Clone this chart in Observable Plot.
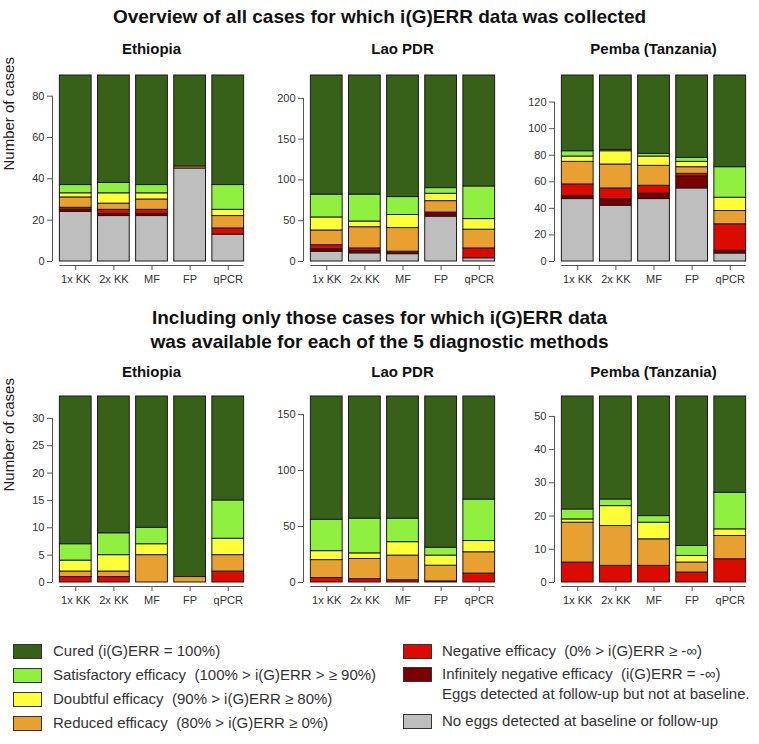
<!DOCTYPE html>
<html><head><meta charset="utf-8">
<script src="https://cdn.jsdelivr.net/npm/d3@7"></script>
<script src="https://cdn.jsdelivr.net/npm/@observablehq/plot@0.6"></script>
<style>
body{margin:0;background:#fff;font-family:"Liberation Sans",Arial,sans-serif;}
#root{position:relative;width:759px;height:744px;overflow:hidden;background:#fff;}
.abs{position:absolute;white-space:pre;}
.mtitle{font-weight:bold;font-size:19px;line-height:24px;text-align:center;color:#111;left:0;width:759px;}
.ptitle{font-weight:bold;font-size:15px;line-height:20px;text-align:center;color:#111;}
.ltext{font-size:15px;line-height:20px;color:#333;}
.sw{box-sizing:border-box;border:1px solid #333;}
</style></head><body><div id="root"></div>
<script>
// ---------------- data ----------------
const methods = ["1x KK", "2x KK", "MF", "FP", "qPCR"];
// stacking order, bottom -> top
const categories = ["No eggs", "Infinitely negative", "Negative", "Reduced", "Doubtful", "Satisfactory", "Cured"];
const categoryColors = ["#bebebe", "#7a0000", "#dd0a00", "#e8a030", "#ffff38", "#90f040", "#376118"];
const countries = ["Ethiopia", "Lao PDR", "Pemba (Tanzania)"];

// rows follow `categories`, columns follow `methods`
const ethiopiaAll = [
  [24, 22, 22, 45, 13],
  [1, 1, 1, 0, 0],
  [1, 2, 2, 0, 3],
  [5, 3, 5, 1, 6],
  [2, 5, 3, 0, 3],
  [4, 5, 4, 0, 12],
  [53, 52, 53, 44, 53]
];
const laoAll = [
  [12, 10, 9, 55, 4],
  [3, 3, 3, 5, 0],
  [5, 3, 0, 0, 12],
  [18, 26, 29, 14, 23],
  [16, 7, 16, 9, 13],
  [28, 33, 22, 7, 40],
  [146, 146, 149, 138, 136]
];
const pembaAll = [
  [47, 42, 47, 55, 6],
  [2, 5, 4, 9, 2],
  [9, 8, 6, 2, 20],
  [17, 18, 15, 5, 10],
  [4, 10, 7, 4, 10],
  [4, 1, 2, 3, 23],
  [57, 56, 59, 62, 69]
];
const ethiopiaComplete = [
  [0, 0, 0, 0, 0],
  [0, 0, 0, 0, 0],
  [1, 1, 0, 0, 2],
  [1, 1, 5, 1, 3],
  [2, 3, 2, 0, 3],
  [3, 4, 3, 0, 7],
  [27, 25, 24, 33, 19]
];
const laoComplete = [
  [0, 0, 0, 0, 0],
  [0, 0, 0, 1, 0],
  [4, 3, 2, 0, 8],
  [16, 18, 22, 14, 19],
  [8, 5, 12, 9, 10],
  [28, 31, 21, 7, 37],
  [110, 109, 109, 135, 92]
];
const pembaComplete = [
  [0, 0, 0, 0, 0],
  [0, 0, 0, 0, 0],
  [6, 5, 5, 3, 7],
  [12, 12, 8, 3, 7],
  [1, 6, 5, 2, 2],
  [3, 2, 2, 3, 11],
  [34, 31, 36, 45, 29]
];
const ticksAll = [[0, 20, 40, 60, 80], [0, 50, 100, 150, 200], [0, 20, 40, 60, 80, 100, 120]];
const ticksComplete = [[0, 5, 10, 15, 20, 25, 30], [0, 50, 100, 150], [0, 10, 20, 30, 40, 50]];

const mainTitle = "Overview of all cases for which i(G)ERR data was collected";
const subTitle = "Including only those cases for which i(G)ERR data\nwas available for each of the 5 diagnostic methods";
const yLabel = "Number of cases";
const legendLabels = [
  "Cured (i(G)ERR = 100%)",
  "Satisfactory efficacy  (100% > i(G)ERR > \u2265 90%)",
  "Doubtful efficacy  (90% > i(G)ERR \u2265 80%)",
  "Reduced efficacy  (80% > i(G)ERR \u2265 0%)",
  "Negative efficacy  (0% > i(G)ERR \u2265 -\u221e)",
  "Infinitely negative efficacy  (i(G)ERR = -\u221e)\nEggs detected at follow-up but not at baseline.",
  "No eggs detected at baseline or follow-up"
];

// ---------------- layout ----------------
const FONT = "Liberation Sans, Arial, sans-serif";
const root = document.getElementById("root");
const PW = 251, PH = 225, ML = 52, MT = 10, FRAME_BOTTOM = 200;
const PI = 0.2 / 1.2, PO = 0.232 / 1.2;
const FW = PW - ML;
const step = FW / (methods.length - PI + 2 * PO);
const bw = step * (1 - PI);
const yAxisDx = -(PO * step + bw / 2);

function addDiv(cls, text, left, top, width) {
  const d = document.createElement("div");
  d.className = "abs " + cls;
  d.textContent = text;
  d.style.left = left + "px";
  d.style.top = top + "px";
  if (width != null) d.style.width = width + "px";
  root.appendChild(d);
  return d;
}

function panel(matrix, ticks, withLabel) {
  const total = d3.sum(matrix, r => r[0]);
  const rows = [];
  methods.forEach((m, j) => matrix.forEach((r, k) => {
    if (r[j] > 0) rows.push({method: m, cat: categories[k], value: r[j]});
  }));
  const marks = [
    Plot.barY(rows, {x: "method", y: "value", fill: "cat", stroke: "#1b1b1b", strokeWidth: 1}),
    Plot.ruleY([{y: 0, a: methods[0], b: methods[methods.length - 1]}], {y: "y", x1: "a", x2: "b", dy: 4, stroke: "#555"}),
    Plot.ruleX([{x: methods[0], y1: 0, y2: ticks[ticks.length - 1]}], {x: "x", y1: "y1", y2: "y2", dx: yAxisDx, stroke: "#555"}),
    Plot.axisY({ticks, tickSize: 5, tickPadding: 3, label: null, stroke: "#555", fill: "#333", fontSize: 11}),
    Plot.axisX({tickSize: 5, tickPadding: 5, label: null, stroke: "#555", fill: "#333", fontSize: 11})
  ];
  if (withLabel) {
    marks.push(Plot.text([yLabel], {text: d => d, frameAnchor: "left", dx: -43, rotate: -90, fontSize: 15, fill: "#222"}));
  }
  return Plot.plot({
    width: PW, height: PH,
    marginLeft: ML, marginRight: 0, marginTop: MT, marginBottom: PH - FRAME_BOTTOM,
    style: {fontFamily: FONT, fontSize: "11px", color: "#333", background: "transparent", overflow: "visible"},
    x: {domain: methods, paddingInner: PI, paddingOuter: PO, align: 0.5, round: false, axis: null},
    y: {domain: [0, total], insetBottom: 4, axis: null},
    color: {domain: categories, range: categoryColors},
    marks
  });
}

addDiv("mtitle", mainTitle, 0, 5);
addDiv("mtitle", subTitle, 0, 306);

const rowsSpec = [
  {data: [ethiopiaAll, laoAll, pembaAll], ticks: ticksAll, svgTop: 65, titleTop: 39},
  {data: [ethiopiaComplete, laoComplete, pembaComplete], ticks: ticksComplete, svgTop: 386, titleTop: 362}
];
rowsSpec.forEach(spec => {
  spec.data.forEach((m, i) => {
    const left = i * PW;
    const svg = panel(m, spec.ticks[i], i === 0);
    svg.style.position = "absolute";
    svg.style.left = left + "px";
    svg.style.top = spec.svgTop + "px";
    root.appendChild(svg);
    addDiv("ptitle", countries[i], left + ML, spec.titleTop, FW);
  });
});

// legend (left column: Cured..Reduced, right column: Negative, Infinitely negative, No eggs)
const legendOrder = [6, 5, 4, 3, 2, 1, 0];
const legendPos = [
  {sx: 13, tx: 53, cy: 651},
  {sx: 13, tx: 53, cy: 675},
  {sx: 13, tx: 53, cy: 699},
  {sx: 13, tx: 53, cy: 723},
  {sx: 403, tx: 442, cy: 651},
  {sx: 403, tx: 442, cy: 674},
  {sx: 403, tx: 442, cy: 721}
];
legendOrder.forEach((k, i) => {
  const p = legendPos[i];
  const sw = document.createElement("div");
  sw.className = "abs sw";
  sw.style.left = p.sx + "px";
  sw.style.top = (p.cy - 7) + "px";
  sw.style.width = "29px";
  sw.style.height = "15px";
  sw.style.background = categoryColors[k];
  root.appendChild(sw);
  addDiv("ltext", legendLabels[i], p.tx, p.cy - 10);
});
</script>
</body></html>
